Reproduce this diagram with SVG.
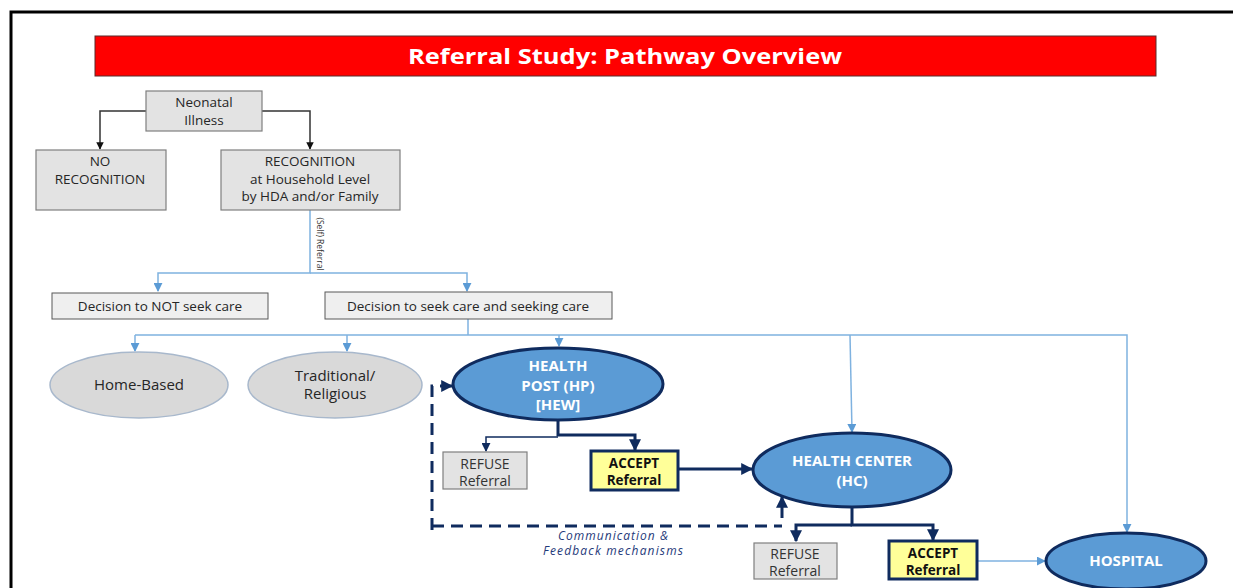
<svg xmlns="http://www.w3.org/2000/svg" width="1233" height="588" viewBox="0 0 1233 588">
<defs>
<style>
text{font-family:"Open Sans","Liberation Sans",sans-serif;text-anchor:middle}
.box{fill:#e3e3e3;stroke:#7f7f7f;stroke-width:1.2}
.dec{fill:#efefef;stroke:#595959;stroke-width:1}
.t{font-size:13.5px;fill:#262626}
.oval{fill:#d9d9d9;stroke:#a8b8cc;stroke-width:1.5}
.ot{font-size:15px;fill:#262626}
.hf{fill:#5b9bd5;stroke:#0f2b5e;stroke-width:3}
.ht{font-size:15px;font-weight:bold;fill:#ffffff}
.acc{fill:#ffff99;stroke:#0f2b5e;stroke-width:3}
.at{font-size:13.5px;font-weight:bold;fill:#111}
.ref{fill:#e3e3e3;stroke:#7f7f7f;stroke-width:1.2}
.rt{font-size:14px;fill:#333}
.blk{fill:none;stroke:#333;stroke-width:1.5}
.lb{fill:none;stroke:#7fb2e0;stroke-width:1.5}
.nv{fill:none;stroke:#0f2b5e;stroke-width:3}
.nvt{fill:none;stroke:#0f2b5e;stroke-width:1.5}
.dash{fill:none;stroke:#0f2b5e;stroke-width:3;stroke-dasharray:12 7}
.ct{font-size:12px;font-style:italic;fill:#1f3a7a}
</style>
<marker id="ab" viewBox="0 0 10 10" refX="9" refY="5" markerWidth="5" markerHeight="5" orient="auto"><path d="M0,0 L10,5 L0,10 z" fill="#111"/></marker>
<marker id="al" viewBox="0 0 10 10" refX="9" refY="5" markerWidth="6" markerHeight="6" orient="auto"><path d="M0,0 L10,5 L0,10 z" fill="#5b9bd5"/></marker>
<marker id="an" viewBox="0 0 10 10" refX="9" refY="5" markerWidth="4" markerHeight="4" orient="auto"><path d="M0,0 L10,5 L0,10 z" fill="#0f2b5e"/></marker>
<marker id="ant" viewBox="0 0 10 10" refX="9" refY="5" markerWidth="6" markerHeight="6" orient="auto"><path d="M0,0 L10,5 L0,10 z" fill="#0f2b5e"/></marker>
</defs>
<rect width="1233" height="588" fill="#ffffff"/>
<!-- frame -->
<path d="M11,588 L11,12 L1233,12" fill="none" stroke="#000" stroke-width="3"/>
<!-- title -->
<g id="title">
<rect x="95" y="36" width="1061" height="40" fill="#ff0000" stroke="#5a2a2a" stroke-width="1"/>
<text x="625" y="64" font-size="22" font-weight="bold" fill="#ffffff" textLength="434" lengthAdjust="spacingAndGlyphs">Referral Study: Pathway Overview</text>
</g>
<!-- connectors -->
<g id="connectors">
<path class="blk" d="M146,111 H100 V149" marker-end="url(#ab)"/>
<path class="blk" d="M262,111 H310 V149" marker-end="url(#ab)"/>
<path class="lb" d="M310,210 V273 H158 V291" marker-end="url(#al)"/>
<path class="lb" d="M310,273 H467 V291" marker-end="url(#al)"/>
<path class="lb" d="M468,319 V335"/>
<path class="lb" d="M135,335 H1127 V532" marker-end="url(#al)"/>
<path class="lb" d="M135,335 V351" marker-end="url(#al)"/>
<path class="lb" d="M347,335 V351" marker-end="url(#al)"/>
<path class="lb" d="M559,335 V346" marker-end="url(#al)"/>
<path class="lb" d="M850,335 L852,432" marker-end="url(#al)"/>
<path class="lb" d="M977,561 H1045" marker-end="url(#al)"/>
<path class="nv" d="M558,420 V435 H635 V450" marker-end="url(#an)"/>
<path class="nvt" d="M558,437 H486 V451" marker-end="url(#ant)"/>
<path class="nv" d="M678,469 H752" marker-end="url(#an)"/>
<path class="nv" d="M852,507 V525 H933 V540" marker-end="url(#an)"/>
<path class="nv" d="M852,525 H796 V541" marker-end="url(#an)"/>
<path class="dash" d="M432,530 V386 H440"/>
<path class="nv" d="M440,386 H452" marker-end="url(#an)"/>
<path class="dash" d="M432,526 H782"/>
<path class="nv" d="M782,518 V497" marker-end="url(#an)"/>
<text class="ct" x="613" y="540" textLength="110" lengthAdjust="spacing">Communication &amp;</text>
<text class="ct" x="613" y="555" font-size="13" textLength="140" lengthAdjust="spacing">Feedback mechanisms</text>
<text x="0" y="0" font-size="8.5" fill="#333" transform="translate(317,244) rotate(90)">(Self) Referral</text>
</g>
<!-- nodes -->
<g id="neonatal">
<rect class="box" x="146" y="91" width="116" height="40"/>
<text class="t" x="204" y="107">Neonatal</text>
<text class="t" x="204" y="125">Illness</text>
</g>
<g id="no-recognition">
<rect class="box" x="36" y="150" width="130" height="60"/>
<text class="t" x="100" y="166">NO</text>
<text class="t" x="100" y="184">RECOGNITION</text>
</g>
<g id="recognition">
<rect class="box" x="221" y="150" width="179" height="60"/>
<text class="t" x="310" y="166">RECOGNITION</text>
<text class="t" x="310" y="184">at Household Level</text>
<text class="t" x="310" y="201">by HDA and/or Family</text>
</g>
<g id="not-seek">
<rect class="dec" x="52" y="293" width="216" height="26"/>
<text class="t" x="160" y="311">Decision to NOT seek care</text>
</g>
<g id="seek">
<rect class="dec" x="325" y="292" width="287" height="27"/>
<text class="t" x="468" y="311">Decision to seek care and seeking care</text>
</g>
<g id="home-based">
<ellipse class="oval" cx="139" cy="385" rx="89" ry="33"/>
<text class="ot" x="139" y="390">Home-Based</text>
</g>
<g id="traditional">
<ellipse class="oval" cx="335" cy="385" rx="87" ry="33"/>
<text class="ot" x="335" y="381">Traditional/</text>
<text class="ot" x="335" y="399">Religious</text>
</g>
<g id="health-post">
<ellipse class="hf" cx="558" cy="384" rx="105" ry="36"/>
<text class="ht" x="558" y="371">HEALTH</text>
<text class="ht" x="558" y="391">POST (HP)</text>
<text class="ht" x="558" y="410">[HEW]</text>
</g>
<g id="refuse-hp">
<rect class="ref" x="443" y="452" width="84" height="37"/>
<text class="rt" x="485" y="469">REFUSE</text>
<text class="rt" x="485" y="486">Referral</text>
</g>
<g id="accept-hp">
<rect class="acc" x="591" y="451" width="87" height="39"/>
<text class="at" x="634" y="468">ACCEPT</text>
<text class="at" x="634" y="485">Referral</text>
</g>
<g id="health-center">
<ellipse class="hf" cx="852" cy="470" rx="99" ry="37"/>
<text class="ht" x="852" y="466">HEALTH CENTER</text>
<text class="ht" x="852" y="486">(HC)</text>
</g>
<g id="refuse-hc">
<rect class="ref" x="754" y="543" width="83" height="36"/>
<text class="rt" x="795" y="559">REFUSE</text>
<text class="rt" x="795" y="576">Referral</text>
</g>
<g id="accept-hc">
<rect class="acc" x="889" y="541" width="88" height="38"/>
<text class="at" x="933" y="558">ACCEPT</text>
<text class="at" x="933" y="575">Referral</text>
</g>
<g id="hospital">
<ellipse class="hf" cx="1126" cy="561" rx="80" ry="28"/>
<text class="ht" x="1126" y="566">HOSPITAL</text>
</g>
</svg>
